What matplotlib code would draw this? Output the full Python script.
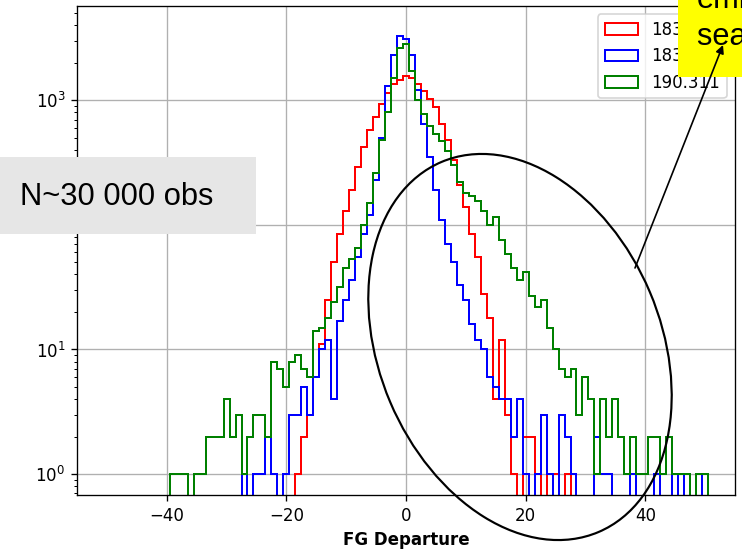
import matplotlib
matplotlib.use("Agg")
import matplotlib.pyplot as plt
import numpy as np
from matplotlib.patches import Ellipse, Rectangle, FancyArrowPatch

# histogram bins (width 1), centres -39 .. 50
bin_centers = np.arange(-39, 51)
bin_edges = np.arange(-39.5, 51.5, 1.0)

counts_183_1 = [0, 0, 0, 0, 0, 0, 0, 0, 0, 0,
                0, 0, 0, 0, 0, 0, 0, 0, 0, 0,
                0, 1, 2, 3, 6, 11, 25, 50, 85, 130,
                190, 290, 420, 580, 740, 930, 1150, 1350, 1450, 1550,
                1520, 1360, 1180, 1020, 880, 640, 480, 330, 210, 140,
                85, 55, 28, 18, 4, 12, 3, 1, 0, 2,
                2, 1, 0, 1, 1, 0, 1, 0, 0, 0,
                0, 0, 0, 0, 0, 0, 0, 0, 0, 0,
                0, 0, 0, 0, 0, 0, 0, 0, 0, 0]

counts_183_3 = [0, 0, 0, 0, 0, 0, 0, 0, 0, 0,
                0, 0, 1, 0, 1, 1, 2, 1, 0, 1,
                3, 3, 5, 3, 6, 10, 12, 4, 17, 25,
                36, 55, 85, 120, 230, 500, 1300, 2300, 3300, 3100,
                2300, 1200, 650, 350, 190, 110, 70, 50, 33, 25,
                16, 12, 10, 6, 5, 4, 4, 2, 4, 1,
                0, 1, 3, 1, 0, 3, 2, 1, 0, 0,
                0, 2, 1, 1, 0, 0, 0, 1, 0, 0,
                0, 1, 0, 0, 1, 0, 1, 0, 1, 0]

counts_190 = [1, 1, 1, 0, 1, 1, 2, 2, 2, 4,
              2, 3, 1, 2, 3, 3, 2, 8, 7, 5,
              8, 9, 7, 6, 14, 15, 18, 24, 32, 45,
              53, 65, 100, 150, 260, 480, 800, 1500, 2600, 2800,
              1700, 1000, 780, 620, 540, 470, 390, 300, 220, 180,
              170, 155, 130, 100, 115, 75, 58, 45, 36, 42,
              27, 22, 25, 15, 10, 7, 6, 7, 3, 6,
              4, 1, 4, 2, 4, 2, 1, 2, 1, 1,
              2, 2, 1, 2, 1, 1, 1, 0, 1, 1]

labels = ["183±1", "183±3", "190.311"]
colors = ["red", "blue", "green"]

DPI = 120
W, H = 742, 552
fig = plt.figure(figsize=(W / DPI, H / DPI), dpi=DPI)
ax = fig.add_axes([77 / W, 57 / H, 658 / W, 489 / H])

for counts, label, color in zip([counts_183_1, counts_183_3, counts_190], labels, colors):
    ax.hist(bin_centers, bins=bin_edges, weights=counts, histtype="step",
            color=color, label=label, log=True, linewidth=1.2)

ax.set_xlim(-55, 55)
ax.set_ylim(0.68, 5700)
ax.set_xticks([-40, -20, 0, 20, 40])
ax.set_xlabel("FG Departure", fontweight="bold")
ax.grid(True)
ax.legend(loc="upper right")


# overlay drawn on top of the figure, in pixel units
def inch(x, y):
    return x / DPI, (H - y) / DPI


fig.add_artist(Rectangle(inch(0, 234), 256 / DPI, 77 / DPI, transform=fig.dpi_scale_trans,
                         facecolor="#e6e6e6", edgecolor="none"))
fig.text(20 / W, 1 - 205 / H, "N~30 000 obs", fontsize=18.5, family="Liberation Sans",
         va="baseline", ha="left")

fig.add_artist(Rectangle(inch(678, 77), 80 / DPI, 80 / DPI, transform=fig.dpi_scale_trans,
                         facecolor="#ffff00", edgecolor="none"))
fig.text(697 / W, 1 - 8 / H, "emissivity", fontsize=18.5, family="Liberation Sans",
         va="baseline", ha="left")
fig.text(697 / W, 1 - 45 / H, "sea ice", fontsize=18.5, family="Liberation Sans",
         va="baseline", ha="left")

fig.add_artist(Ellipse(inch(520, 347), 282 / DPI, 402 / DPI, angle=23,
                       transform=fig.dpi_scale_trans, fill=False,
                       edgecolor="black", linewidth=1.3))
fig.add_artist(FancyArrowPatch(inch(635, 268), inch(723, 45), transform=fig.dpi_scale_trans,
                               arrowstyle="-|>", mutation_scale=10, color="black",
                               linewidth=1, shrinkA=0, shrinkB=0))

fig.savefig("out.png", dpi=DPI)
